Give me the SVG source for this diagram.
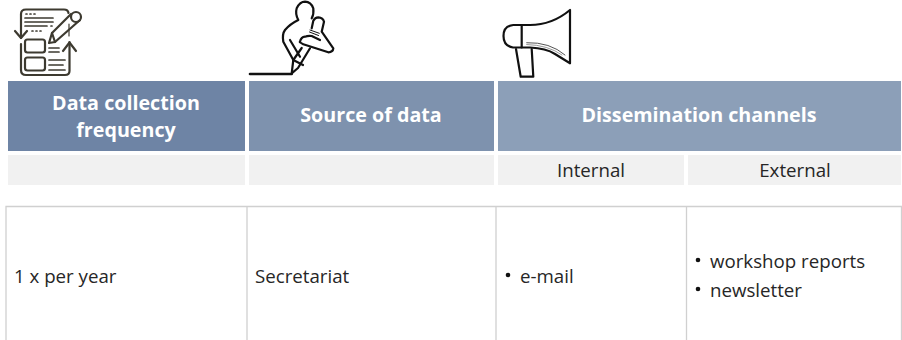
<svg xmlns="http://www.w3.org/2000/svg" width="902" height="340" viewBox="0 0 902 340">
<style>
text{font-family:"Open Sans","Noto Sans","Liberation Sans",sans-serif;fill:#262626;font-size:18.7px}
.h{fill:#fff;font-weight:700;font-size:19.7px;text-anchor:middle}
.m{text-anchor:middle}
.sub{fill:#f1f1f1}
.grid{stroke:#d0d0d0;stroke-width:1.3;fill:none}
.ic{fill:none;stroke:#3d3a30;stroke-width:2.200;stroke-linecap:round;stroke-linejoin:round}
.ik{fill:none;stroke:#111;stroke-width:2.200;stroke-linecap:round;stroke-linejoin:round}
.tk{fill:#111}
</style>
<rect width="902" height="340" fill="#fff"/>
<g id="icon-form" class="ic">
<path d="M21 38V14Q21 9.500 26 9.500H64Q68 9.500 68.500 13"/>
<path d="M15 31L21 38L27 31"/>
<path d="M21 44V70Q21 75 26 75H65Q69.500 75 69.500 71V42"/>
<path d="M63 51L69.500 42.500L76 51"/>
<path d="M69 24V36" stroke-width="1.200"/>
<path d="M26 14H27M30 14H31M34 14H35M25 18H53M25 22H53M25 26H47M51 26H52M32 31H33M36 31H37M40 31H41" stroke-width="1.700"/>
<rect x="25" y="39.500" width="20" height="13" rx="2.500"/>
<rect x="25" y="57.500" width="20" height="13" rx="2.500"/>
<path d="M49 48H59M49 52H59M49 60H65M49 65H63M49 70H65" stroke-width="1.700"/>
<path d="M49 43L52 33L71 14M49 43L55 42L80 20"/>
<path d="M52 33L55 42"/>
<circle cx="76" cy="17" r="5"/>
</g>
<g id="icon-writer" class="ik">
<path d="M250 74H291.700" stroke-width="2.600"/>
<path d="M293.300 60L283.300 41.700Q282 34 285 30Q290 24 298.300 20Q295 14 296.700 8.300Q300 1.700 305 1.700Q311 2 313.300 8.300Q314 14 311.700 18.300"/>
<path d="M290 40L300 56.700"/>
<path d="M291.700 73.300L293.300 60L301.700 48M291.700 73.300L298 68L310 48.300"/>
<path d="M293.300 60L303 65"/>
<path d="M311.700 28.300L313.300 20.700Q315 17.300 318.300 17.300Q323 17.500 324 21.700L321.700 31.700L333.300 48.300Q333 52 328.300 52.300L303.300 44.300Q299 42 300 41.700Q301 37 305 36.700Q308 35.500 311.700 36L320 40"/>
<path d="M310 30L319.300 33.300M309.500 32L318.500 35.500" stroke-width="1"/>
</g>
<g id="icon-megaphone" class="ik">
<path d="M570 10V63.300L555 54Q546 48.300 530 47.500H513Q503.500 46 503.500 36Q503.500 26 513.300 25H530Q552 25 570 10Z"/>
<path d="M521.700 25V47.500"/>
<path d="M516 49L520.700 76.700H533.300L531.700 49"/>
<path d="M526.700 42.700Q550 42 565 55" stroke-width="1" stroke="#555"/>
<path d="M526.700 44.500Q548 45 562 55" stroke-width="1" stroke="#999"/>
</g>
<g id="header-frequency">
<rect x="8" y="81" width="237" height="70" fill="#6e84a5"/>
<text class="h" x="126" y="110">Data collection</text>
<text class="h" x="126" y="137">frequency</text>
</g>
<g id="header-source">
<rect x="249" y="81" width="245" height="70" fill="#7e92ae"/>
<text class="h" x="371" y="122">Source of data</text>
</g>
<g id="header-dissemination">
<rect x="498" y="81" width="403" height="70" fill="#8c9fb8"/>
<text class="h" x="699" y="122">Dissemination channels</text>
</g>
<g id="sub-row">
<rect class="sub" x="8" y="155" width="237" height="30"/>
<rect class="sub" x="249" y="155" width="245" height="30"/>
<rect class="sub" x="498" y="155" width="186" height="30"/>
<rect class="sub" x="688" y="155" width="213" height="30"/>
<text class="m" x="591" y="177">Internal</text>
<text class="m" x="795" y="177">External</text>
</g>
<g id="data-grid">
<path class="grid" d="M6 340V206.500H901.500V340M247 206.500V340M496 206.500V340M686.500 206.500V340"/>
</g>
<g id="data-row">
<text x="14" y="283">1 x per year</text>
<text x="255" y="283">Secretariat</text>
<circle class="tk" cx="508" cy="275" r="2.300"/>
<text x="520" y="283">e-mail</text>
<circle class="tk" cx="698" cy="260" r="2.300"/>
<text x="710" y="268">workshop reports</text>
<circle class="tk" cx="698" cy="289" r="2.300"/>
<text x="710" y="297">newsletter</text>
</g>
</svg>
